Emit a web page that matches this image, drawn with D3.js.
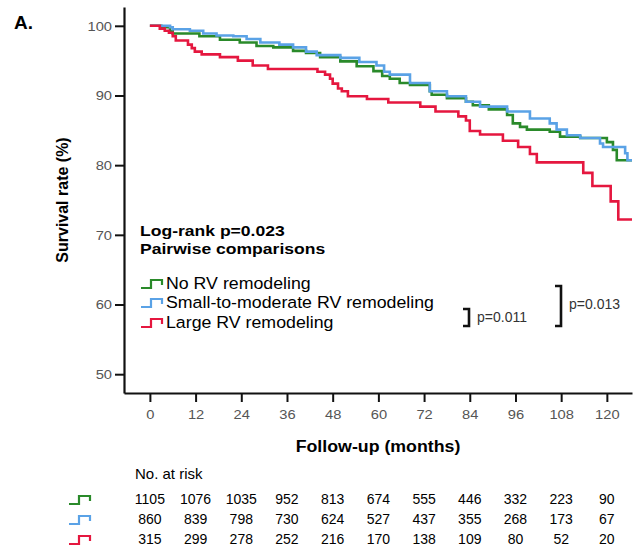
<!DOCTYPE html>
<html>
<head>
<meta charset="utf-8">
<script src="https://d3js.org/d3.v7.min.js"></script>
<style>
  body { margin: 0; background: #fff; }
  svg { display: block; font-family: "Liberation Sans", Arial, sans-serif; }
</style>
</head>
<body>
<div id="chart"></div>
<script>
// survival curves: [month, survival %] at each step (last point = end of follow-up)
const noRemodeling = [
  [0, 100], [3, 99.8], [5.3, 99.2], [6, 98.9], [13, 98.5], [18.4, 98.0], [23.6, 97.6],
  [28, 97.1], [32.4, 96.9], [37.6, 96.4], [41, 96.1], [44.7, 95.5], [50, 94.9],
  [54.3, 94.2], [58.7, 93.5], [61, 92.8], [63, 92.4], [65.6, 91.8], [68.3, 91.5],
  [73.5, 90.6], [74, 90.1], [78, 89.6], [83, 89.1], [84.8, 88.6], [89, 88.0],
  [93.8, 87.2], [95.3, 86.0], [97.2, 85.5], [99, 85.1], [105, 84.8], [107.7, 84.1],
  [113, 83.9], [120, 83.3], [121.6, 82.2], [122.6, 80.7], [126.6, 80.7]
];
const smallModerate = [
  [0, 100], [5.3, 99.8], [6, 99.5], [10.5, 99.3], [14, 98.9], [17.5, 98.6], [21.9, 98.5],
  [25.4, 98.1], [29, 97.6], [34, 97.3], [37.6, 96.9], [41, 96.3], [43.8, 95.8],
  [50, 95.4], [55, 94.8], [59.5, 94.3], [61.5, 93.4], [63, 93.0], [68.3, 91.8],
  [73.5, 90.6], [78, 89.9], [83, 89.1], [86.7, 88.4], [93.8, 87.7], [99.8, 86.7],
  [105, 86.0], [106.8, 85.1], [109.5, 84.3], [113, 83.9], [118.2, 83.1], [119, 82.6],
  [124.8, 81.7], [125.4, 80.7], [126.6, 80.7]
];
const largeRemodeling = [
  [0, 100], [2.6, 99.6], [3.9, 99.3], [5, 99.0], [6, 98.5], [6.8, 97.9], [10, 97.3],
  [11, 96.8], [11.8, 96.3], [13.6, 95.9], [18.4, 95.5], [23.1, 95.0], [27, 94.3],
  [31, 93.8], [44, 93.4], [46, 93.0], [47.3, 92.4], [48, 91.7], [49.4, 91.0],
  [50.4, 90.6], [52, 89.9], [57, 89.5], [62.6, 89.0], [71, 88.4], [75, 87.7],
  [81, 87.0], [83, 86.4], [84, 84.9], [86.7, 84.4], [92.7, 83.5], [96.7, 82.6],
  [99.8, 81.6], [101.6, 80.4], [113.8, 78.9], [116.2, 77.0], [121, 74.8], [123, 72.2],
  [126.6, 72.2]
];

const groupNames = ["No RV remodeling", "Small-to-moderate RV remodeling", "Large RV remodeling"];
const colors = ["#2a8a2a", "#5aa2e6", "#e5173f"];

const xTicks = [0, 12, 24, 36, 48, 60, 72, 84, 96, 108, 120];
const yTicks = [50, 60, 70, 80, 90, 100];

// numbers at risk (same order as groups)
const riskNo = [1105, 1076, 1035, 952, 813, 674, 555, 446, 332, 223, 90];
const riskSmall = [860, 839, 798, 730, 624, 527, 437, 355, 268, 173, 67];
const riskLarge = [315, 299, 278, 252, 216, 170, 138, 109, 80, 52, 20];

const width = 641, height = 548;
const stretch = 1.09; // text in the original is a bit wide

const svg = d3.select("#chart").append("svg")
  .attr("width", width)
  .attr("height", height);

// scales - axis line sits a bit left of month 0
const x = d3.scaleLinear().domain([-6.8, 126.6]).range([124, 632]);
const y = d3.scaleLinear().domain([47.3, 102.7]).range([393, 7]);

// curves
const line = d3.line()
  .x(d => x(d[0]))
  .y(d => y(d[1]))
  .curve(d3.curveStepAfter);

const curves = [noRemodeling, smallModerate, largeRemodeling];
svg.append("g")
  .selectAll("path")
  .data(curves)
  .join("path")
    .attr("fill", "none")
    .attr("stroke", (d, i) => colors[i])
    .attr("stroke-width", 2.6)
    .attr("d", line);

// axes
const yAxis = svg.append("g")
  .attr("transform", `translate(${x(-6.8)},0)`)
  .call(d3.axisLeft(y).tickValues(yTicks).tickSize(9).tickSizeOuter(0).tickPadding(2));

const xAxis = svg.append("g")
  .attr("transform", `translate(0,${y(47.3)})`)
  .call(d3.axisBottom(x).tickValues(xTicks).tickSize(9).tickSizeOuter(0).tickPadding(7));

[yAxis, xAxis].forEach(g => {
  g.select(".domain").attr("stroke", "#111").attr("stroke-width", 2.2);
  g.selectAll(".tick line").attr("stroke", "#111").attr("stroke-width", 2);
  g.selectAll(".tick text")
    .attr("fill", "#555")
    .attr("transform", `scale(${stretch},1)`)
    .style("font-size", "13.5px")
    .style("font-family", "'Liberation Sans', Arial, sans-serif");
});

// text helper with a horizontal stretch
function label(tx, ty, str, size, bold, anchor, sx) {
  return svg.append("text")
    .attr("transform", `translate(${tx},${ty}) scale(${sx || stretch},1)`)
    .attr("text-anchor", anchor || "start")
    .style("font-size", size + "px")
    .style("font-weight", bold ? "bold" : "normal")
    .text(str);
}

// axis titles
label(378, 452, "Follow-up (months)", 16.3, true, "middle");

svg.append("text")
  .attr("transform", `translate(68,${y(75)}) rotate(-90)`)
  .attr("text-anchor", "middle")
  .style("font-size", "16px").style("font-weight", "bold")
  .text("Survival rate (%)");

// panel letter
svg.append("text")
  .attr("x", 14).attr("y", 29)
  .style("font-size", "19px").style("font-weight", "bold")
  .text("A.");

// stats text (tight line spacing like the original)
label(140, 236, "Log-rank p=0.023", 15, true, "start", 1.17);
label(140, 254, "Pairwise comparisons", 15, true, "start", 1.17);

// little step symbol used in legend and risk table
function stepSymbol(g, x0, yb, color) {
  g.append("path")
    .attr("d", `M${x0},${yb} h10 v-8 h11 v5`)
    .attr("fill", "none")
    .attr("stroke", color)
    .attr("stroke-width", 2.2);
}

// legend
const legendY = [283, 302, 322];
groupNames.forEach((name, i) => {
  stepSymbol(svg, 141, legendY[i] + 5, colors[i]);
  label(166, legendY[i] + 6, name, 16.3, false);
});

// brackets for pairwise p-values
function bracket(x0, y0, y1, text, ly) {
  svg.append("path")
    .attr("d", `M${x0},${y0} h6 V${y1} h-6`)
    .attr("fill", "none")
    .attr("stroke", "#111")
    .attr("stroke-width", 2.6);
  svg.append("text")
    .attr("x", x0 + 14).attr("y", ly + 5)
    .attr("fill", "#333")
    .style("font-size", "14px")
    .text(text);
}
bracket(463, 309, 326, "p=0.011", 317);
bracket(555, 286, 326, "p=0.013", 304);

// risk table
svg.append("text")
  .attr("x", 135).attr("y", 479)
  .style("font-size", "15px")
  .text("No. at risk");

const riskRows = [riskNo, riskSmall, riskLarge];
const rowY = [499, 519, 539];
riskRows.forEach((row, i) => {
  stepSymbol(svg, 69, rowY[i] + 5, colors[i]);
  svg.append("g")
    .selectAll("text")
    .data(row)
    .join("text")
      .attr("x", (d, j) => x(xTicks[j]))
      .attr("y", rowY[i] + 5)
      .attr("text-anchor", "middle")
      .style("font-size", "14px")
      .text(d => d);
});
</script>
</body>
</html>
